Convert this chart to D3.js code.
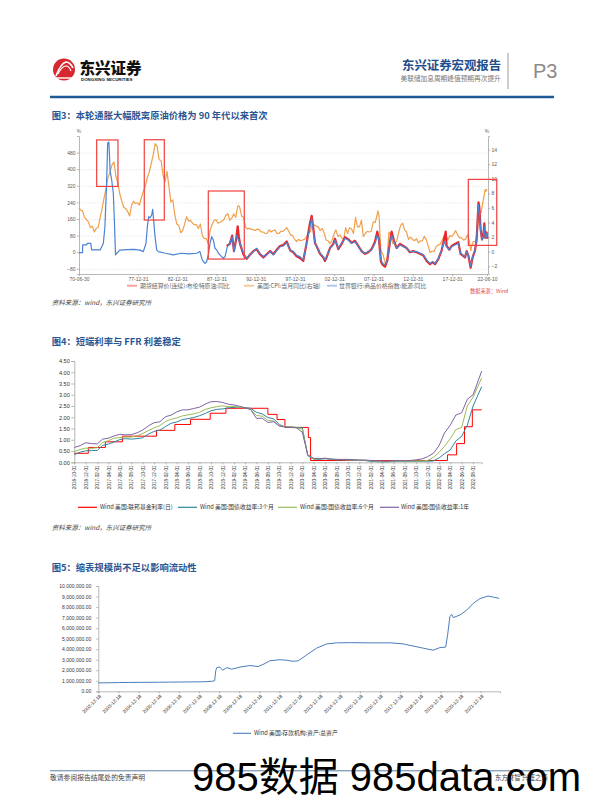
<!DOCTYPE html>
<html><head><meta charset="utf-8">
<script src="https://cdn.jsdelivr.net/npm/d3@7"></script>
<style>
body{margin:0;background:#fff;}
svg{display:block;font-family:"Noto Sans CJK SC","Liberation Sans",sans-serif;}
</style></head><body>
<svg id="c" width="596" height="808"></svg>
<script>
// ---------------- DATA ----------------
// Figure 3: oil vs CPI
const c3TickYears = [1970.5,1978,1983,1988,1993,1998,2003,2008,2013,2018,2022.44];
const c3TickLabels = ["70-06-30","77-12-31","82-12-31","87-12-31","92-12-31","97-12-31","02-12-31","07-12-31","12-12-31","17-12-31","22-06-10"];
const c3LeftTicks = [-80,0,80,160,240,320,400,480];
const c3RightTicks = [-2,0,2,4,6,8,10,12,14];
const c3Names = ["期货结算价(连续):布伦特原油:同比","美国:CPI:当月同比(右轴)","世界银行:商品价格指数:能源:同比"];
// [year, value %] world bank energy index yoy (left axis)
const energyPairs = [[1970.5,-2],[1970.95,-2],[1970.97,35],[1971.5,35],[1971.56,43],[1972.0,43],[1972.1,11],[1973.2,11],[1973.6,43],[1973.8,123],[1974.0,316],[1974.15,525],[1974.3,531],[1974.4,450],[1974.45,396],[1974.66,348],[1974.87,284],[1975.0,155],[1975.15,-13],[1975.3,-5],[1975.7,10],[1976.5,12],[1977.5,14],[1978.27,10],[1978.69,3],[1979.03,43],[1979.2,123],[1979.37,171],[1979.54,166],[1979.75,179],[1979.88,207],[1980.0,155],[1980.18,75],[1980.39,11],[1980.6,3],[1981.5,-5],[1982.5,-13],[1983.5,-5],[1984.5,-8],[1985.48,-5],[1985.9,3],[1986.2,-38],[1986.54,-54],[1986.75,-46],[1986.96,-13],[1987.18,43],[1987.39,75],[1987.6,59],[1987.81,19],[1988.03,11],[1988.25,-5],[1988.45,-13],[1988.66,-21],[1988.87,-30],[1989.1,-21],[1989.38,27],[1989.72,43],[1989.98,75],[1990.23,3],[1990.57,83],[1990.78,60],[1991.0,43],[1991.42,-5],[1991.85,-30],[1992.2,-13],[1992.69,3],[1993.12,19],[1993.5,-5],[1993.97,-21],[1994.4,-13],[1994.82,3],[1995.24,-13],[1995.6,5],[1996.09,27],[1996.5,30],[1996.94,46],[1997.4,10],[1997.79,3],[1998.2,-15],[1998.63,-21],[1999.05,-38],[1999.48,43],[1999.9,123],[2000.12,163],[2000.33,107],[2000.54,43],[2000.96,11],[2001.18,-5],[2001.6,-21],[2001.81,-38],[2002.02,-21],[2002.45,19],[2002.87,35],[2003.09,59],[2003.51,19],[2003.93,43],[2004.36,67],[2004.78,59],[2005.21,43],[2005.63,51],[2006.06,27],[2006.48,3],[2006.91,-5],[2007.33,3],[2007.75,11],[2008.18,43],[2008.47,83],[2008.69,59],[2008.94,-38],[2009.15,-54],[2009.45,-62],[2009.75,-38],[2010.09,43],[2010.3,83],[2010.6,51],[2010.94,19],[2011.36,35],[2011.79,27],[2012.21,19],[2012.63,3],[2013.06,3],[2013.48,3],[2013.91,-5],[2014.33,-13],[2014.76,-38],[2015.18,-54],[2015.52,-46],[2015.82,-54],[2016.24,-30],[2016.66,11],[2016.96,51],[2017.3,27],[2017.64,11],[2017.94,27],[2018.36,35],[2018.79,43],[2019.08,-5],[2019.34,-13],[2019.64,-21],[2019.85,3],[2020.06,-13],[2020.36,-70],[2020.61,-21],[2020.91,11],[2021.12,59],[2021.33,230],[2021.46,195],[2021.63,107],[2021.8,59],[2021.97,75],[2022.1,123],[2022.22,67],[2022.39,91],[2022.44,70]];
// [year, value %] Brent yoy (left axis)
const brentPairs = [[1989.3,30],[1989.7,40],[1990.0,80],[1990.23,5],[1990.5,60],[1990.7,125],[1990.85,75],[1991.0,40],[1991.42,-10],[1991.85,-32],[1992.2,-15],[1992.69,5],[1993.12,15],[1993.5,-8],[1993.97,-25],[1994.4,-10],[1994.82,5],[1995.24,-10],[1995.6,8],[1996.09,30],[1996.5,35],[1996.94,52],[1997.4,8],[1997.79,0],[1998.2,-20],[1998.63,-28],[1999.05,-42],[1999.48,45],[1999.9,140],[2000.12,175],[2000.33,115],[2000.54,45],[2000.96,12],[2001.18,-8],[2001.6,-25],[2001.81,-42],[2002.02,-25],[2002.45,20],[2002.87,40],[2003.09,65],[2003.51,15],[2003.93,40],[2004.36,72],[2004.78,62],[2005.21,45],[2005.63,55],[2006.06,30],[2006.48,5],[2006.91,-8],[2007.33,0],[2007.75,15],[2008.18,50],[2008.47,99],[2008.69,60],[2008.94,-45],[2009.15,-60],[2009.45,-69],[2009.75,-40],[2010.09,50],[2010.3,99],[2010.6,55],[2010.94,20],[2011.36,40],[2011.79,30],[2012.21,20],[2012.63,0],[2013.06,5],[2013.48,0],[2013.91,-8],[2014.33,-15],[2014.76,-42],[2015.18,-58],[2015.52,-48],[2015.82,-58],[2016.24,-33],[2016.66,8],[2016.96,60],[2017.18,99],[2017.3,30],[2017.64,12],[2017.94,30],[2018.36,40],[2018.79,48],[2019.08,-8],[2019.34,-15],[2019.64,-25],[2019.85,5],[2020.06,-15],[2020.36,-75],[2020.61,-25],[2020.91,8],[2021.12,60],[2021.36,240],[2021.46,219],[2021.63,110],[2021.8,62],[2021.97,78],[2022.1,139],[2022.22,70],[2022.39,95],[2022.44,65]];
// [year, value %] US CPI yoy (right axis)
const cpiPairs = [[1970.5,6.0],[1970.7,5.7],[1970.95,5.6],[1971.2,4.7],[1971.45,4.4],[1971.7,4.1],[1971.95,3.3],[1972.2,3.5],[1972.45,2.7],[1972.7,3.2],[1972.95,3.4],[1973.2,4.7],[1973.45,6.0],[1973.7,7.4],[1973.95,8.7],[1974.2,10.2],[1974.45,10.9],[1974.7,11.9],[1974.95,12.3],[1975.2,10.3],[1975.45,9.4],[1975.7,7.9],[1975.95,6.9],[1976.2,6.1],[1976.45,5.9],[1976.7,5.5],[1976.95,4.9],[1977.2,6.4],[1977.45,6.9],[1977.7,6.6],[1977.95,6.7],[1978.2,6.4],[1978.45,7.4],[1978.7,8.3],[1978.95,9.0],[1979.2,10.2],[1979.45,10.9],[1979.7,12.1],[1979.95,13.3],[1980.2,14.8],[1980.45,14.4],[1980.7,12.6],[1980.95,12.5],[1981.2,10.5],[1981.45,9.6],[1981.7,11.0],[1981.95,8.9],[1982.2,6.8],[1982.45,7.1],[1982.7,5.0],[1982.95,3.8],[1983.2,3.6],[1983.45,2.6],[1983.7,2.9],[1983.95,3.8],[1984.2,4.8],[1984.45,4.2],[1984.7,4.3],[1984.95,3.9],[1985.2,3.7],[1985.45,3.7],[1985.7,3.2],[1985.95,3.8],[1986.2,2.2],[1986.45,1.8],[1986.7,1.8],[1986.95,1.1],[1987.2,3.0],[1987.45,3.7],[1987.7,4.3],[1987.95,4.4],[1988.2,3.9],[1988.45,4.0],[1988.7,4.2],[1988.95,4.4],[1989.2,5.0],[1989.45,5.2],[1989.7,4.3],[1989.95,4.6],[1990.2,5.2],[1990.45,4.7],[1990.7,6.2],[1990.8,6.3],[1990.95,6.1],[1991.2,4.9],[1991.45,4.7],[1991.7,3.4],[1991.95,3.1],[1992.2,3.2],[1992.45,3.1],[1992.7,3.0],[1992.95,2.9],[1993.2,3.1],[1993.45,3.0],[1993.7,2.7],[1993.95,2.7],[1994.2,2.5],[1994.45,2.5],[1994.7,3.0],[1994.95,2.7],[1995.2,2.9],[1995.45,3.0],[1995.7,2.5],[1995.95,2.5],[1996.2,2.8],[1996.45,2.8],[1996.7,3.0],[1996.95,3.3],[1997.2,2.8],[1997.45,2.3],[1997.7,2.2],[1997.95,1.7],[1998.2,1.4],[1998.45,1.7],[1998.7,1.5],[1998.95,1.6],[1999.2,1.7],[1999.45,2.0],[1999.7,2.6],[1999.95,2.7],[2000.2,3.8],[2000.45,3.7],[2000.7,3.5],[2000.95,3.4],[2001.2,2.9],[2001.45,3.2],[2001.7,2.6],[2001.95,1.6],[2002.2,1.5],[2002.45,1.1],[2002.7,1.5],[2002.95,2.4],[2003.2,3.0],[2003.45,2.1],[2003.7,2.3],[2003.95,1.9],[2004.2,1.7],[2004.45,3.3],[2004.7,2.5],[2004.95,3.3],[2005.2,3.1],[2005.45,2.5],[2005.7,4.7],[2005.95,3.4],[2006.2,3.4],[2006.45,4.3],[2006.7,2.1],[2006.95,2.5],[2007.2,2.8],[2007.45,2.7],[2007.7,2.8],[2007.95,4.1],[2008.2,4.0],[2008.45,5.0],[2008.54,5.6],[2008.7,4.9],[2008.87,1.1],[2008.95,0.1],[2009.2,-0.4],[2009.45,-1.4],[2009.54,-2.1],[2009.7,-1.3],[2009.95,2.7],[2010.2,2.3],[2010.45,1.1],[2010.7,1.1],[2010.95,1.5],[2011.2,2.7],[2011.45,3.6],[2011.7,3.9],[2011.95,3.0],[2012.2,2.7],[2012.45,1.7],[2012.7,2.0],[2012.95,1.7],[2013.2,1.5],[2013.45,1.8],[2013.7,1.2],[2013.95,1.5],[2014.2,1.5],[2014.45,2.1],[2014.7,1.7],[2014.95,0.8],[2015.2,-0.1],[2015.45,0.1],[2015.7,0.0],[2015.95,0.7],[2016.2,0.9],[2016.45,1.0],[2016.7,1.5],[2016.95,2.1],[2017.2,2.4],[2017.45,1.6],[2017.7,2.2],[2017.95,2.1],[2018.2,2.4],[2018.45,2.9],[2018.7,2.3],[2018.95,1.9],[2019.2,1.9],[2019.45,1.6],[2019.7,1.7],[2019.95,2.3],[2020.2,1.5],[2020.37,0.1],[2020.45,0.6],[2020.7,1.4],[2020.95,1.4],[2021.2,2.6],[2021.37,5.0],[2021.45,5.4],[2021.7,5.4],[2021.95,7.0],[2022.2,8.5],[2022.3,8.3],[2022.44,8.6]];
// annotation boxes: [yearStart, yearEnd, low, high] on left axis
const c3Boxes = [[1972.75,1975.46,317,541],[1978.81,1981.36,155,542],[1986.96,1991.54,-33,295],[2020.06,2023.68,33,351]];

// Figure 4: short rates
const c4Months = d3.timeMonth.range(new Date(2016,9,1), new Date(2022,8,1)).concat([new Date(2022,8,16)]);
const bill3m = [0.34,0.45,0.51, 0.52,0.53,0.75,0.81,0.90,1.01,1.05,1.03,1.05,1.09,1.25,1.37, 1.43,1.59,1.73,1.79,1.90,1.94,1.99,2.07,2.17,2.29,2.35,2.37, 2.42,2.44,2.45,2.43,2.40,2.22,2.15,1.99,1.93,1.68,1.57,1.57, 1.55,1.54,0.29,0.14,0.13,0.16,0.13,0.10,0.11,0.10,0.09,0.09, 0.08,0.04,0.03,0.02,0.02,0.04,0.05,0.05,0.04,0.05,0.05,0.05, 0.06,0.20,0.38,0.55,0.95,1.15,1.65,2.50,3.36];
const bill6m = [0.48,0.57,0.63, 0.62,0.65,0.88,0.96,1.07,1.10,1.12,1.12,1.18,1.28,1.41,1.53, 1.63,1.82,1.91,1.97,2.06,2.11,2.15,2.22,2.35,2.42,2.47,2.51, 2.47,2.48,2.44,2.42,2.35,2.08,2.05,1.87,1.84,1.62,1.58,1.59, 1.53,1.48,0.31,0.15,0.16,0.18,0.14,0.13,0.12,0.11,0.10,0.09, 0.09,0.07,0.05,0.04,0.04,0.05,0.06,0.06,0.05,0.06,0.06,0.08, 0.22,0.45,0.70,1.05,1.45,1.55,2.50,2.90,3.75];
const bill1y = [0.66,0.74,0.87, 0.83,0.82,1.03,1.07,1.17,1.24,1.22,1.23,1.31,1.43,1.62,1.76, 1.80,2.03,2.09,2.24,2.33,2.33,2.39,2.45,2.59,2.69,2.70,2.66, 2.58,2.55,2.49,2.42,2.34,1.95,1.96,1.77,1.80,1.61,1.57,1.55, 1.53,1.33,0.33,0.18,0.16,0.18,0.15,0.13,0.13,0.13,0.12,0.10, 0.10,0.08,0.07,0.06,0.05,0.07,0.08,0.07,0.08,0.11,0.15,0.25, 0.40,0.75,1.30,1.65,2.10,2.20,2.80,3.00,4.05];
const ffrDates = ["2016-10-01","2016-12-15","2017-03-16","2017-06-15","2017-12-14","2018-03-22","2018-06-14","2018-09-27","2018-12-20","2019-08-01","2019-09-19","2019-10-31","2020-03-04","2020-03-16","2021-06-17","2022-03-17","2022-05-05","2022-06-16","2022-07-28","2022-09-16"];
const ffrValues = [0.40,0.66,0.91,1.16,1.42,1.68,1.91,2.18,2.40,2.13,1.90,1.55,1.10,0.08,0.08,0.33,0.83,1.58,2.33,2.33];
const c4Names = ["Wind 美国:联邦基金利率(日)","Wind 美国:国债收益率:3个月","Wind 美国:国债收益率:6个月","Wind 美国:国债收益率:1年"];
const c4YTicks = [0,0.5,1,1.5,2,2.5,3,3.5,4,4.5];

// Figure 5: depository institutions total assets
const c5TickYears = [2002.96,2003.96,2004.96,2005.96,2006.96,2007.96,2008.96,2009.96,2010.96,2011.96,2012.96,2013.96,2014.96,2015.96,2016.96,2017.96,2018.96,2019.96,2020.96,2021.96];
const c5TickLabels = ["2002-12-18","2003-12-18","2004-12-18","2005-12-18","2006-12-18","2007-12-18","2008-12-18","2009-12-18","2010-12-18","2011-12-18","2012-12-18","2013-12-18","2014-12-18","2015-12-18","2016-12-18","2017-12-18","2018-12-18","2019-12-18","2020-12-18","2021-12-18"];
const assetsPairs = [[2002.96,800000],[2003.5,810000],[2004.0,830000],[2004.5,840000],[2005.0,850000],[2006.0,860000],[2006.5,870000],[2007.0,880000],[2007.5,890000],[2008.0,900000],[2008.3,910000],[2008.6,950000],[2008.74,1000000],[2008.8,2000000],[2008.85,2250000],[2009.0,2300000],[2009.14,2000000],[2009.34,2250000],[2009.59,2100000],[2009.8,2200000],[2010.0,2300000],[2010.5,2450000],[2010.9,2350000],[2011.2,2600000],[2011.49,2900000],[2011.98,3000000],[2012.3,2950000],[2012.65,2850000],[2012.9,2900000],[2013.31,3450000],[2013.81,4100000],[2014.31,4500000],[2014.8,4600000],[2015.5,4620000],[2016.5,4600000],[2017.5,4600000],[2018.11,4500000],[2018.6,4300000],[2019.1,4100000],[2019.6,3900000],[2019.93,4150000],[2020.22,4200000],[2020.32,5400000],[2020.43,7100000],[2020.52,7300000],[2020.6,7000000],[2020.93,7250000],[2021.26,7700000],[2021.59,8350000],[2021.92,8800000],[2022.33,9050000],[2022.58,8950000],[2022.88,8830000]];
const c5YTicks = [0,1e6,2e6,3e6,4e6,5e6,6e6,7e6,8e6,9e6,10e6];
const c5Name = "Wind 美国:存款机构:资产:总资产";

// ---------------- DRAW ----------------
const svg = d3.select("#c");
svg.append("rect").attr("width",596).attr("height",808).attr("fill","#fff");
const titleColor = "#2b5591", axisGray = "#a6a6a6", labelGray = "#595959";

function styleAxis(g, fs){
  g.attr("font-family","Liberation Sans, Noto Sans CJK SC, sans-serif").attr("font-size",fs);
  g.select(".domain").attr("stroke",axisGray).attr("stroke-width",0.8);
  g.selectAll(".tick line").attr("stroke",axisGray).attr("stroke-width",0.8);
  g.selectAll(".tick text").attr("fill",labelGray);
}

// Header
const logo = svg.append("g");
logo.append("circle").attr("cx",64).attr("cy",69.5).attr("r",11).attr("fill","#d7282f");
logo.append("path").attr("d","M56,76 Q61,63 66,62 Q70,62 73,68").attr("fill","none").attr("stroke","#fff").attr("stroke-width",1.6);
logo.append("path").attr("d","M58,74 Q62,66 66,66 Q69,66 71,71").attr("fill","none").attr("stroke","#fff").attr("stroke-width",1.2);
logo.append("path").attr("d","M55,78 L73,78").attr("stroke","#fff").attr("stroke-width",1.4);
svg.append("text").attr("x",79.5).attr("y",74).attr("font-size",15.5).attr("font-weight",900).attr("fill","#111").text("东兴证券");
svg.append("text").attr("x",81).attr("y",81.2).attr("font-size",4.4).attr("font-weight",700).attr("font-family","Liberation Sans").attr("fill","#111").text("DONGXING SECURITIES");
svg.append("text").attr("x",402).attr("y",70).attr("font-size",12.4).attr("font-weight",700).attr("fill","#1f4e8c").text("东兴证券宏观报告");
svg.append("text").attr("x",400.5).attr("y",81.3).attr("font-size",6.7).attr("fill","#777").text("美联储加息周期峰值预期再次提升");
svg.append("line").attr("x1",508).attr("x2",508).attr("y1",53).attr("y2",89).attr("stroke","#999").attr("stroke-width",1);
svg.append("text").attr("x",533).attr("y",77.5).attr("font-size",20).attr("font-family","Liberation Sans").attr("fill","#8a8a8a").text("P3");
svg.append("line").attr("x1",50).attr("x2",554).attr("y1",97).attr("y2",97).attr("stroke","#1f5a96").attr("stroke-width",2.4);

function chartTitle(y, t){
  svg.append("text").attr("x",51.7).attr("y",y).attr("font-size",9.3).attr("font-weight",700).attr("fill",titleColor).text(t);
}
function sourceLine(y){
  svg.append("text").attr("x",51.7).attr("y",y).attr("font-size",6.5).attr("font-style","italic").attr("fill","#444").text("资料来源：wind，东兴证券研究所");
}

// ---- Figure 3 ----
chartTitle(119,"图3：本轮通胀大幅脱离原油价格为 90 年代以来首次");
const x3 = d3.scaleLinear().domain([1970.5,2022.44]).range([79,487]);
const yL3 = d3.scaleLinear().domain([-105,560]).range([274,136]);
const yR3 = d3.scaleLinear().domain([-3.05,15.85]).range([274,136]);
// grid
const grid3 = svg.append("g").attr("transform","translate(79,0)")
  .call(d3.axisLeft(yL3).tickValues(c3LeftTicks.filter(d=>d!==0)).tickSize(-409).tickFormat(""));
grid3.select(".domain").remove();
grid3.selectAll("line").attr("stroke","#d9d9d9").attr("stroke-width",0.6).attr("stroke-dasharray","1.5,1.5");
const gL3 = svg.append("g").attr("transform","translate(79,0)").call(d3.axisLeft(yL3).tickValues(c3LeftTicks).tickSize(2).tickPadding(1.5));
styleAxis(gL3,5);
const gR3 = svg.append("g").attr("transform","translate(488,0)").call(d3.axisRight(yR3).tickValues(c3RightTicks).tickSize(2).tickPadding(1.5));
styleAxis(gR3,5);
const gX3 = svg.append("g").attr("transform","translate(0,274)").call(d3.axisBottom(x3).tickValues(c3TickYears).tickFormat((d,i)=>c3TickLabels[i]).tickSize(2).tickPadding(1.5));
styleAxis(gX3,5);
gX3.select(".domain").attr("d","M79,0.5H488");
svg.append("text").attr("x",79).attr("y",133).attr("text-anchor","middle").attr("font-size",5).attr("fill",labelGray).text("%");
svg.append("text").attr("x",487).attr("y",133).attr("text-anchor","middle").attr("font-size",5).attr("fill",labelGray).text("%");
const lineL3 = d3.line().x(d=>x3(d[0])).y(d=>yL3(d[1]));
const lineR3 = d3.line().x(d=>x3(d[0])).y(d=>yR3(d[1]));
const c3Colors = ["#e8262b","#f0a04b","#4a84d4"];
svg.append("path").datum(cpiPairs).attr("d",lineR3).attr("fill","none").attr("stroke",c3Colors[1]).attr("stroke-width",1.2).attr("stroke-linejoin","round");
svg.append("path").datum(brentPairs).attr("d",lineL3).attr("fill","none").attr("stroke",c3Colors[0]).attr("stroke-width",2.2).attr("stroke-linejoin","round");
svg.append("path").datum(energyPairs).attr("d",lineL3).attr("fill","none").attr("stroke",c3Colors[2]).attr("stroke-width",1.2).attr("stroke-linejoin","round");
svg.append("g").selectAll("rect").data(c3Boxes).join("rect")
  .attr("x",d=>x3(d[0])).attr("y",d=>yL3(d[3])).attr("width",d=>x3(d[1])-x3(d[0])).attr("height",d=>yL3(d[2])-yL3(d[3]))
  .attr("fill","none").attr("stroke","#f0413f").attr("stroke-width",1.2);
// legend
const leg3 = [{sx:127,tx:140,c:"#f3a3a3"},{sx:244,tx:257,c:"#f8c99c"},{sx:327,tx:339,c:"#abc8ee"}];
leg3.forEach((l,i)=>{
  svg.append("line").attr("x1",l.sx).attr("x2",l.sx+10).attr("y1",285.7).attr("y2",285.7).attr("stroke",l.c).attr("stroke-width",2);
  svg.append("text").attr("x",l.tx).attr("y",287.8).attr("font-size",5.9).attr("fill","#666").text(c3Names[i]);
});
svg.append("text").attr("x",470).attr("y",292.6).attr("font-size",5.2).attr("fill","#e04848").text("数据来源：Wind");
sourceLine(305);

// ---- Figure 4 ----
chartTitle(344.7,"图4：短端利率与 FFR 利差稳定");
const x4 = d3.scaleTime().domain([new Date(2016,9,1), new Date(2022,8,16)]).range([74.3,481.7]);
const y4 = d3.scaleLinear().domain([0,4.5]).range([462.3,361]);
const gY4 = svg.append("g").attr("transform","translate(74.3,0)").call(d3.axisLeft(y4).tickValues(c4YTicks).tickFormat(d3.format(".2f")).tickSize(3).tickPadding(1.5));
styleAxis(gY4,5.6);
gY4.selectAll(".tick text").attr("fill","#333");
const gX4 = svg.append("g").attr("transform","translate(0,462.3)").call(d3.axisBottom(x4).tickValues(d3.timeMonth.range(new Date(2016,9,1), new Date(2022,8,2), 2)).tickFormat(d3.timeFormat("%Y-%m-%d")).tickSize(2));
styleAxis(gX4,4.7);
gX4.selectAll(".tick text").attr("transform","rotate(-90)").attr("text-anchor","end").attr("x",-3).attr("y",0).attr("dy","0.35em").attr("fill","#333");
const c4Colors = ["#ff0000","#31859c","#9bbb59","#8064a2"];
const ffrPts = ffrDates.map((d,i)=>[d3.timeParse("%Y-%m-%d")(d), ffrValues[i]]);
const line4 = d3.line().x(d=>x4(d[0])).y(d=>y4(d[1]));
svg.append("path").datum(ffrPts).attr("d",line4.curve(d3.curveStepAfter)).attr("fill","none").attr("stroke",c4Colors[0]).attr("stroke-width",1);
const line4b = d3.line().x(d=>x4(d[0])).y(d=>y4(d[1]));
[bill3m,bill6m,bill1y].forEach((s,k)=>{
  svg.append("path").datum(c4Months.map((m,i)=>[m,s[i]])).attr("d",line4b).attr("fill","none").attr("stroke",c4Colors[k+1]).attr("stroke-width",1).attr("stroke-linejoin","round");
});
const leg4 = [{sx:78,tx:100},{sx:178,tx:200},{sx:278,tx:300},{sx:380,tx:401}];
leg4.forEach((l,i)=>{
  svg.append("line").attr("x1",l.sx).attr("x2",l.sx+19).attr("y1",507.3).attr("y2",507.3).attr("stroke",c4Colors[i]).attr("stroke-width",1.2);
  svg.append("text").attr("x",l.tx).attr("y",509.4).attr("font-size",5.8).attr("fill","#333").text(c4Names[i]);
});
sourceLine(529.5);

// ---- Figure 5 ----
chartTitle(570.5,"图5：缩表规模尚不足以影响流动性");
const x5 = d3.scaleLinear().domain([2002.96,2022.92]).range([98.3,500]);
const y5 = d3.scaleLinear().domain([0,10e6]).range([691.3,586]);
const gY5 = svg.append("g").attr("transform","translate(98.3,0)").call(d3.axisLeft(y5).tickValues(c5YTicks).tickFormat(d3.format(",.2f")).tickSize(2).tickPadding(5));
styleAxis(gY5,5);
gY5.selectAll(".tick text").attr("fill","#333");
const gX5 = svg.append("g").attr("transform","translate(0,691.3)").call(d3.axisBottom(x5).tickValues(c5TickYears).tickFormat((d,i)=>c5TickLabels[i]).tickSize(2));
styleAxis(gX5,4.8);
gX5.selectAll(".tick text").attr("text-anchor","end").attr("x",0).attr("y",0).attr("dy","0.35em").attr("transform","translate(1.5,4) rotate(-45)").attr("fill","#333");
svg.append("path").datum(assetsPairs).attr("d",d3.line().x(d=>x5(d[0])).y(d=>y5(d[1]))).attr("fill","none").attr("stroke","#4a7ebb").attr("stroke-width",1).attr("stroke-linejoin","round");
svg.append("line").attr("x1",233).attr("x2",251).attr("y1",733.3).attr("y2",733.3).attr("stroke","#4a7ebb").attr("stroke-width",1.1);
svg.append("text").attr("x",254).attr("y",735.3).attr("font-size",5.8).attr("fill","#333").text(c5Name);

// ---- Footer ----
svg.append("line").attr("x1",50).attr("x2",554).attr("y1",770.8).attr("y2",770.8).attr("stroke","#5b7fa6").attr("stroke-width",1);
svg.append("text").attr("x",50).attr("y",780).attr("font-size",6.8).attr("fill","#444").text("敬请参阅报告结尾处的免责声明");
svg.append("text").attr("x",495).attr("y",780).attr("font-size",6.4).attr("fill","#444").text("东方财智 兴盛之源");
svg.append("text").attr("x",192).attr("y",791).attr("font-size",40).attr("font-family","Liberation Sans, Noto Sans CJK SC").attr("fill","#000").text("985数据 985data.com");
</script></body></html>
